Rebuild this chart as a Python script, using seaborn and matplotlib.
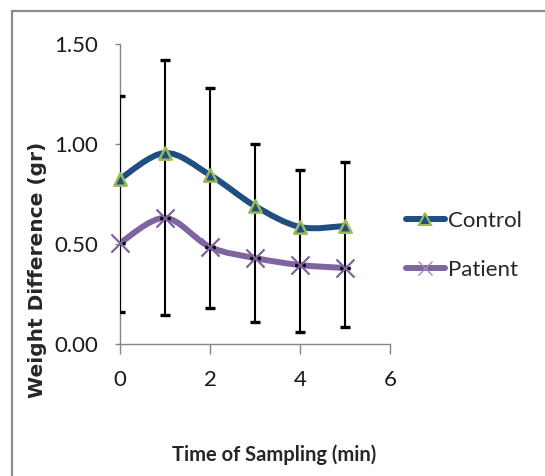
import numpy as np
import matplotlib
matplotlib.use("Agg")
import matplotlib.pyplot as plt
import seaborn as sns
from matplotlib.path import Path
from matplotlib.patches import PathPatch
from matplotlib.lines import Line2D

# values
time_min = [0, 1, 2, 3, 4, 5]
control = [0.825, 0.955, 0.845, 0.69, 0.585, 0.59]
patient = [0.505, 0.63, 0.485, 0.43, 0.395, 0.38]
control_err = [0.415, 0.465, 0.435, 0.31, 0.285, 0.32]   # upper bars
patient_err = [0.345, 0.485, 0.305, 0.32, 0.335, 0.295]  # lower bars

CONTROL_COLOR = "#1F4E82"
CONTROL_EDGE = "#9BBB59"
PATIENT_COLOR = "#8064A2"
NARROW = ["Lato", "DejaVu Sans"]


def smooth_path(xs, ys):
    # Excel-style smoothed line: cubic Bezier through the points
    pts = np.column_stack([xs, ys]).astype(float)
    n = len(pts)
    verts = [pts[0]]
    codes = [Path.MOVETO]
    for i in range(n - 1):
        p_prev = pts[i - 1] if i > 0 else pts[i]
        p_next2 = pts[i + 2] if i + 2 < n else pts[i + 1]
        c1 = pts[i] + (pts[i + 1] - p_prev) / 6.0
        c2 = pts[i + 1] - (p_next2 - pts[i]) / 6.0
        verts += [c1, c2, pts[i + 1]]
        codes += [Path.CURVE4] * 3
    return Path(verts, codes)


sns.set_style("white")
plt.rcParams["font.family"] = NARROW

fig = plt.figure(figsize=(5.45, 4.76), dpi=100)
ax = fig.add_axes([120 / 545, 1 - 344 / 476, 270 / 545, 300 / 476])

# error bars: control upward, patient downward, joined between the two series
c = np.array(control)
p = np.array(patient)
ax.errorbar(time_min, control, yerr=[c - p, control_err], fmt="none",
            ecolor="black", elinewidth=1.5, capsize=3.8, capthick=2.4, zorder=3)
ax.errorbar(time_min, patient, yerr=[patient_err, np.zeros(len(p))], fmt="none",
            ecolor="black", elinewidth=1.5, capsize=3.8, capthick=2.4, zorder=3)

# smoothed lines
for ys, col in [(control, CONTROL_COLOR), (patient, PATIENT_COLOR)]:
    ax.add_patch(PathPatch(smooth_path(time_min, ys), facecolor="none",
                           edgecolor=col, lw=4.3, capstyle="round", zorder=2))

# markers
sns.scatterplot(x=time_min, y=control, marker="^", s=80, color=CONTROL_COLOR,
                edgecolor=CONTROL_EDGE, linewidth=1.8, ax=ax, zorder=4, clip_on=False)
sns.scatterplot(x=time_min, y=patient, marker="x", s=170, color=PATIENT_COLOR,
                linewidth=1.6, ax=ax, zorder=4, clip_on=False)

ax.set_xlim(0, 6)
ax.set_ylim(0, 1.5)
ax.set_xticks([0, 2, 4, 6])
ax.set_yticks([0, 0.5, 1.0, 1.5])
ax.set_yticklabels(["0.00", "0.50", "1.00", "1.50"])
ax.tick_params(axis="x", direction="out", length=7, width=1, color="#868686",
               pad=12, labelsize=16, labelcolor="#1a1a1a")
ax.tick_params(axis="y", direction="out", length=3.5, width=1, color="#868686",
               pad=12, labelsize=16, labelcolor="#1a1a1a")
ax.tick_params(bottom=True, left=True)
for s in ["top", "right"]:
    ax.spines[s].set_visible(False)
for s in ["left", "bottom"]:
    ax.spines[s].set_color("#868686")
    ax.spines[s].set_linewidth(1)

fig.text(38 / 545, 1 - 270 / 476, "Weight Difference (gr)", rotation=90,
         ha="center", va="center", fontsize=14.5, fontweight="bold",
         family="DejaVu Sans")
fig.text(274 / 545, 1 - 455 / 476, "Time of Sampling (min)", ha="center",
         va="center", fontsize=14.5, fontweight="bold")

handles = [
    Line2D([], [], color=CONTROL_COLOR, lw=4.3, marker="^", markersize=8,
           markerfacecolor=CONTROL_COLOR, markeredgecolor=CONTROL_EDGE,
           markeredgewidth=1.5),
    Line2D([], [], color=PATIENT_COLOR, lw=4.3, marker="x", markersize=10,
           markeredgecolor="#A08BC0", markeredgewidth=1),
]
fig.legend(handles, ["Control", "Patient"], loc="center left",
           bbox_to_anchor=(406 / 545, 1 - 245.5 / 476), frameon=False,
           fontsize=16, handlelength=1.75, handletextpad=0.15,
           labelspacing=1.3, borderpad=0, borderaxespad=0)

# outer chart border (top and left edges visible)
fig.add_artist(Line2D([12 / 545, 12 / 545], [0, 1 - 11 / 476],
                      transform=fig.transFigure, color="#8c8c8c", lw=1.6))
fig.add_artist(Line2D([12 / 545, 1], [1 - 11 / 476, 1 - 11 / 476],
                      transform=fig.transFigure, color="#8c8c8c", lw=1.6))

fig.savefig("out.png", dpi=100)
